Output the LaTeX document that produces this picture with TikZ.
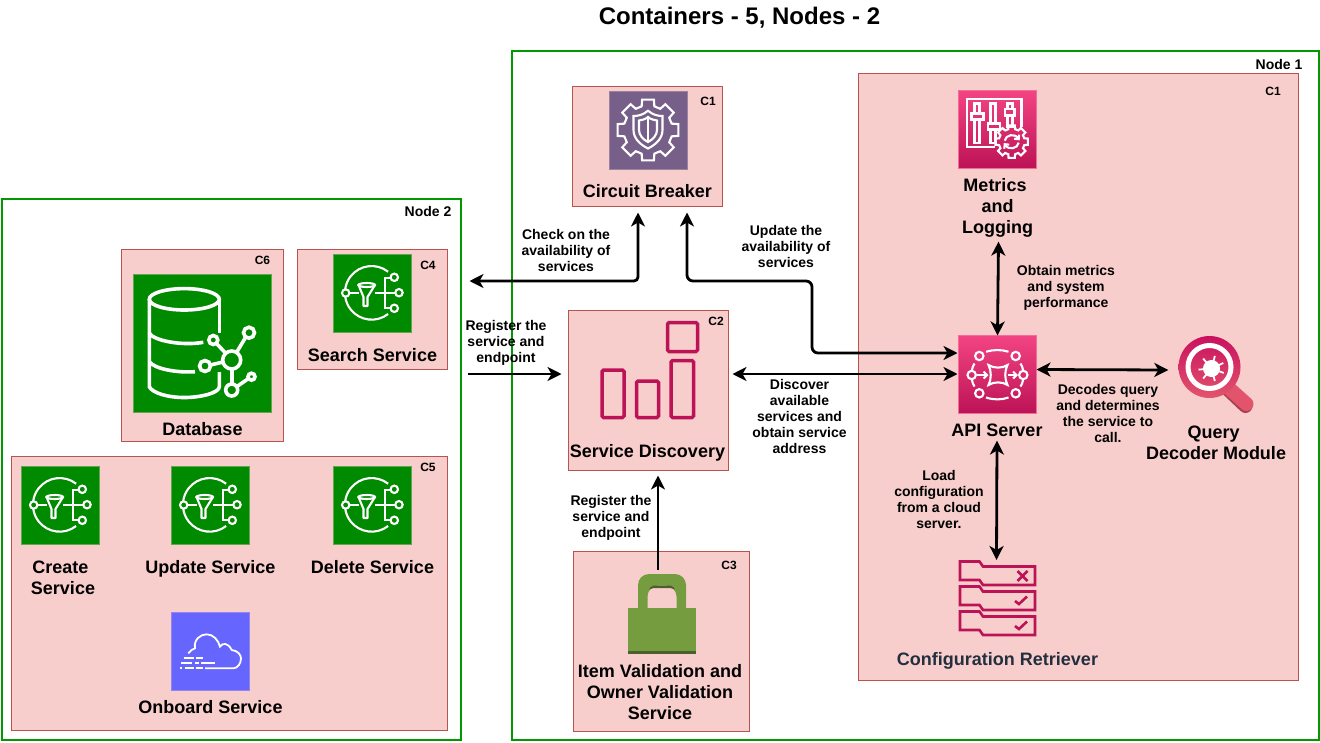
\documentclass[tikz,border=0pt]{standalone}
\usepackage{fontspec}
\setmainfont{Liberation Sans}
\usetikzlibrary{arrows.meta}

\definecolor{nodeGreen}{HTML}{009900}
\definecolor{boxFill}{HTML}{F8CECC}
\definecolor{boxLine}{HTML}{B85450}
\definecolor{iconGreen}{HTML}{008A00}
\definecolor{iconPurple}{HTML}{76608A}
\definecolor{iconBlue}{HTML}{6666FF}
\definecolor{pinkTop}{HTML}{F34482}
\definecolor{pinkBot}{HTML}{BC1356}
\definecolor{pinkLine}{HTML}{BC1356}
\definecolor{lensTop}{HTML}{C9115F}
\definecolor{lensBot}{HTML}{E2546C}
\definecolor{lockGreen}{HTML}{759C3E}
\definecolor{lockDark}{HTML}{4B612C}
\definecolor{darkText}{HTML}{232F3E}

\tikzset{
  nodeFrame/.style={draw=nodeGreen, line width=2pt, inner sep=0pt},
  serviceBox/.style={draw=boxLine, fill=boxFill, line width=1pt, inner sep=0pt, outer sep=0pt},
  iconBox/.style={inner sep=0pt, outer sep=0pt, minimum size=78pt, line width=0.8pt},
  greenIcon/.style={iconBox, fill=iconGreen, draw=iconGreen!60!boxFill},
  pinkIcon/.style={iconBox, top color=pinkTop, bottom color=pinkBot, draw=pinkTop!70!boxFill},
  glyph/.style={draw=white, line width=2.1pt},
  mainText/.style={font=\fontsize{18}{21}\selectfont\bfseries, align=center, inner sep=0pt},
  noteText/.style={font=\fontsize{14}{16}\selectfont\bfseries, align=center, inner sep=0pt},
  tagText/.style={font=\fontsize{12}{14}\selectfont\bfseries, inner sep=0pt},
  conn/.style={draw=black, line width=2.8pt, >={Stealth[length=14pt,width=14pt,inset=4pt]}},
}

% cog outline with eight teeth
\newcommand{\cogPath}[3]{
  \draw[glyph] (-#3:#1) \foreach \a in {0,45,...,315} {
    -- (\a-#3:#1) -- (\a-#3+4:#2) -- (\a+#3-4:#2) -- (\a+#3:#1) } -- cycle;
}
\newcommand{\funnelGlyph}[1]{
  \begin{scope}[shift={(#1)}]
    \draw[glyph] (15.6,21) arc[start angle=52, end angle=172, radius=26.7];
    \draw[glyph] (15.6,-21.3) arc[start angle=308, end angle=188, radius=26.7];
    \foreach \p in {{-26.8,0},{26.5,-0.3},{21.8,-15.7},{21.8,15.3}}
      \draw[glyph] (\p) circle[radius=3.7];
    \draw[glyph] (-23,0) -- (-14,0);
    \draw[glyph] (2.5,0) -- (22.8,0);
    \draw[glyph] (18,-15) -- (12.5,-15) -- (12.5,15.3) -- (18,15.3);
    \draw[glyph] (-5.8,-8) ellipse[x radius=8.3, y radius=2];
    \draw[glyph, line join=round] (-14,-8) -- (-9,4) -- (-9,13) -- (-5,13) -- (-5,4) -- (2.5,-8);
  \end{scope}
}

\begin{document}
\begin{tikzpicture}[x=1pt, y=-1pt]
  \useasboundingbox (0.5,0.5) rectangle (1320.5,742.5);

  \node[font=\fontsize{24}{28}\selectfont\bfseries, inner sep=0pt] (diagramTitle) at (740,18) {Containers - 5, Nodes - 2};

  \draw[nodeFrame] (512,51) rectangle (1319.5,740.5);
  \draw[nodeFrame] (2,199) rectangle (461.5,740.5);
  \node[font=\fontsize{14}{16}\selectfont\bfseries, inner sep=0pt] (nodeOneTag) at (1279.5,64.5) {Node 1};
  \node[font=\fontsize{14}{16}\selectfont\bfseries, inner sep=0pt] (nodeTwoTag) at (428.5,211.5) {Node 2};

  % service boxes
  \node[serviceBox, minimum width=440pt, minimum height=607pt] (apiBox) at (1079,377.5) {};
  \node[serviceBox, minimum width=150pt, minimum height=120pt] (cbBox) at (648,147) {};
  \node[serviceBox, minimum width=160pt, minimum height=160pt] (sdBox) at (649,391) {};
  \node[serviceBox, minimum width=176pt, minimum height=180pt] (itemBox) at (662,642) {};
  \node[serviceBox, minimum width=162pt, minimum height=192pt] (dbBox) at (203,346) {};
  \node[serviceBox, minimum width=150pt, minimum height=120pt] (searchBox) at (373,310) {};
  \node[serviceBox, minimum width=436pt, minimum height=274pt] (crudBox) at (230,594) {};

  \node[tagText] (cbTag) at (708.5,101.5) {C1};
  \node[tagText] (apiTag) at (1273.5,91.5) {C1};
  \node[tagText] (sdTag) at (716.5,321.5) {C2};
  \node[tagText] (itemTag) at (729.5,565.5) {C3};
  \node[tagText] (searchTag) at (428.5,265.5) {C4};
  \node[tagText] (crudTag) at (428.5,467.5) {C5};
  \node[tagText] (dbTag) at (263,260.5) {C6};

  % circuit breaker
  \node[iconBox, fill=iconPurple, draw=iconPurple!70!boxFill] (cbIcon) at (648.5,130.5) {};
  \begin{scope}[shift={(cbIcon.center)}]
    \cogPath{24.5}{31}{15}
    \draw[glyph] (0,-19.3) .. controls (-5,-15) and (-10,-14) .. (-14.5,-14) -- (-14.5,0)
      .. controls (-14.5,9) and (-7,15) .. (0,18.5) .. controls (7,15) and (14.5,9) .. (14.5,0)
      -- (14.5,-14) .. controls (10,-14) and (5,-15) .. (0,-19.3) -- cycle;
    \draw[glyph] (0,-13) .. controls (-3,-10.5) and (-6,-10) .. (-9,-9.5) -- (-9,0)
      .. controls (-9,5) and (-5,9.5) .. (0,12) .. controls (5,9.5) and (9,5) .. (9,0)
      -- (9,-9.5) .. controls (6,-10) and (3,-10.5) .. (0,-13) -- cycle;
    \draw[glyph] (0,-13) -- (0,12);
  \end{scope}
  \node[mainText] (cbText) at (648,191.5) {Circuit Breaker};

  % metrics and logging
  \node[pinkIcon] (metricsIcon) at (998,130) {};
  \begin{scope}[shift={(metricsIcon.center)}]
    \draw[glyph] (-2.5,17.2) -- (-30.8,17.2) -- (-30.8,-30.5) -- (24,-30.5) -- (24,-3);
    \draw[glyph] (-23,-16) -- (-23,-26) -- (-18,-26) -- (-18,-16);
    \draw[glyph] (-26,-16) rectangle (-14,-10);
    \draw[glyph] (-23,-10) -- (-23,13.5) -- (-18,13.5) -- (-18,-10);
    \draw[glyph] (-7,-6) -- (-7,-26) -- (-2,-26) -- (-2,-6);
    \draw[glyph] (-9.5,-6) rectangle (2.5,0);
    \draw[glyph] (-7,0) -- (-7,13.5) -- (-2,13.5) -- (-2,0);
    \draw[glyph] (10,-20.5) -- (10,-26) -- (15,-26) -- (15,-20.5);
    \draw[glyph] (7.5,-20.5) rectangle (17,-14);
    \draw[glyph] (10,-14) -- (10,-3) -- (15,-3) -- (15,-14);
    \begin{scope}[shift={(14.2,12.2)}]
      \cogPath{13}{16.5}{15}
      \draw[glyph] (-7,-1) .. controls (-6,-7) and (3,-9) .. (7,-3);
      \draw[glyph] (7,1) .. controls (6,7) and (-3,9) .. (-7,3);
      \draw[glyph] (7.5,-7) -- (7,-2.5) -- (2.5,-3);
      \draw[glyph] (-7.5,7) -- (-7,2.5) -- (-2.5,3);
    \end{scope}
  \end{scope}
  \node[mainText] (metricsText) at (998,208.5) {Metrics\hspace*{5pt}\\and\hspace*{5pt}\\Logging};

  % api server
  \node[pinkIcon] (apiIcon) at (998,375) {};
  \begin{scope}[shift={(apiIcon.center)}]
    \foreach \p in {{-18.2,-18.5},{18.2,-18.5},{-25.8,0.5},{25.8,0.5},{-18.2,18.8},{18.2,18.8}}
      \draw[glyph] (\p) circle[radius=4.2];
    \draw[glyph] (-11.5,-22.8) .. controls (-4,-25) and (4,-25) .. (11,-22.8);
    \draw[glyph] (-11.5,23) .. controls (-4,25.5) and (4,25.5) .. (11,23);
    \draw[glyph] (-23,-11) .. controls (-24.5,-9) and (-25,-7) .. (-25.5,-4.5);
    \draw[glyph] (23,-11) .. controls (24.5,-9) and (25,-7) .. (25.5,-4.5);
    \draw[glyph] (-23,12) .. controls (-24.5,10) and (-25,8) .. (-25.5,5.5);
    \draw[glyph] (23,12) .. controls (24.5,10) and (25,8) .. (25.5,5.5);
    \draw[glyph] (-9,-9.5) .. controls (-4,-6) and (5,-6) .. (10,-9.5)
      .. controls (7,-4) and (7,5) .. (10,10.5) .. controls (5,7) and (-4,7) .. (-9,10.5)
      .. controls (-6,5) and (-6,-4) .. (-9,-9.5) -- cycle;
    \draw[glyph] (-21,0.5) -- (-11,0.5);
    \draw[glyph] (-14,-3) -- (-10.5,0.5) -- (-14,4);
    \draw[glyph] (10,0.5) -- (19,0.5);
    \draw[glyph] (15.5,-3) -- (19,0.5) -- (15.5,4);
  \end{scope}
  \node[mainText] (apiText) at (997.5,430.5) {API Server};

  % query decoder
  \draw[line width=14pt, line cap=round, draw=lensBot!75!black] (1227,388.5) -- (1246,406.5);
  \draw[line width=14pt, line cap=round, draw=lensBot] (1227,386.5) -- (1247,404.5);
  \node[circle, minimum size=62pt, inner sep=0pt, top color=lensTop, bottom color=lensBot] (queryIcon) at (1210,367.5) {};
  \begin{scope}[shift={(queryIcon.center)}]
    \draw[white, line width=5pt] (0,0) circle[radius=21.5];
    \fill[white] (2,1.5) circle[radius=8.5];
    \foreach \a in {20,75,130,175,230,285,335}
      \draw[white, line width=1.8pt] ([shift={(2,1.5)}]\a:6) -- ([shift={(2,1.5)}]\a:13);
  \end{scope}
  \node[mainText] (queryText) at (1216.5,443) {Query\hspace*{5pt}\\Decoder Module};

  % configuration retriever
  \node[iconBox] (configIcon) at (998,599.5) {};
  \foreach \dy in {0,25,50} {
    \begin{scope}[yshift=-\dy pt]
      \draw[pinkLine, line width=2.6pt] (960.5,562) -- (980,562) -- (983.5,567) -- (1035.5,567)
        -- (1035.5,585.5) -- (983.5,585.5) -- (980,580.5) -- (960.5,580.5) -- cycle;
    \end{scope}
  }
  \draw[pinkLine, line width=2.6pt] (1018,571.5) -- (1028,581.5) (1028,571.5) -- (1018,581.5);
  \draw[pinkLine, line width=2.6pt] (1015.5,601.5) -- (1019.5,604.5) -- (1027.5,597);
  \draw[pinkLine, line width=2.6pt] (1015.5,626.5) -- (1019.5,629.5) -- (1027.5,622);
  \node[mainText, text=darkText] (configText) at (998,661.5) {Configuration Retriever};

  % service discovery
  \node[iconBox, minimum width=110pt, minimum height=100pt] (sdIcon) at (648,370) {};
  \draw[pinkLine, line width=3.5pt, rounded corners=1.5pt] (668,323) rectangle (698,352);
  \draw[pinkLine, line width=3.5pt, rounded corners=1.5pt] (602.5,370.5) rectangle (624.5,418);
  \draw[pinkLine, line width=3.5pt, rounded corners=1.5pt] (637,381.5) rectangle (659,418);
  \draw[pinkLine, line width=3.5pt, rounded corners=1.5pt] (671.5,361) rectangle (694,418);
  \node[mainText] (sdText) at (648,453.5) {Service Discovery};

  % item validation
  \fill[lockGreen, even odd rule, rounded corners=11pt] (638.5,630) -- (638.5,574.5) -- (686.5,574.5) -- (686.5,630) -- cycle
    (648,630) -- (648,586) -- (677,586) -- (677,630) -- cycle;
  \fill[lockDark, rounded corners=2pt] (649,591) -- (652,586) -- (673,586) -- (676,591) -- (673,588.5) -- (652,588.5) -- cycle;
  \node[inner sep=0pt, outer sep=0pt, minimum width=68pt, minimum height=46pt, fill=lockGreen] (lockIcon) at (662.5,631) {};
  \fill[lockDark] (628.5,651.5) rectangle (696.5,654.5);
  \node[mainText] (itemText) at (660.5,692.5) {Item Validation and\\Owner Validation\\Service};

  % node 2 services
  \node[greenIcon, minimum size=138pt] (dbIcon) at (203,343.5) {};
  \begin{scope}[shift={(dbIcon.center)}, every path/.style={line width=3.6pt, draw=white}]
    \draw (-18.2,-43.7) ellipse[x radius=35, y radius=10.7];
    \draw (-53.2,-43.7) -- (-53.2,43.7) .. controls (-50,50) and (-35,54.5) .. (-18.2,54.5)
      .. controls (-2,54.5) and (16.8,50) .. (16.8,43.7) -- (16.8,29);
    \draw (16.8,-43.7) -- (16.8,-9.7);
    \draw (-53.2,-9.7) .. controls (-48,-2) and (-20,3) .. (0.8,-0.7);
    \draw (-53.2,18.7) .. controls (-48,26) and (-25,30) .. (-7.5,28.7);
    \draw (29.2,17) circle[radius=9];
    \draw (10.8,-3) circle[radius=4.5];
    \draw (46.5,-10.3) circle[radius=5.5];
    \draw (2.5,23) circle[radius=5.5];
    \draw (29.2,47) circle[radius=6];
    \draw (49,33.7) circle[radius=3.5];
    \draw (14,0.5) -- (23,10);
    \draw (43,-5.5) -- (34,9.5);
    \draw (8,22) -- (20.5,19);
    \draw (29.2,26) -- (29.2,41);
    \draw (34.5,43.5) -- (46,35.5);
  \end{scope}
  \node[mainText] (dbText) at (203,429.5) {Database};

  \node[greenIcon] (searchIcon) at (373,293.5) {};
  \funnelGlyph{searchIcon.center}
  \node[mainText] (searchText) at (373,355.5) {Search Service};

  \node[greenIcon] (createIcon) at (61,505.5) {};
  \funnelGlyph{createIcon.center}
  \node[mainText] (createText) at (63.5,578) {Create\hspace*{5pt}\\Service};
  \node[greenIcon] (updateIcon) at (211,505.5) {};
  \funnelGlyph{updateIcon.center}
  \node[mainText] (updateText) at (211,569.5) {Update Service};
  \node[greenIcon] (deleteIcon) at (373,505.5) {};
  \funnelGlyph{deleteIcon.center}
  \node[mainText] (deleteText) at (373,567.5) {Delete Service};

  \node[iconBox, fill=iconBlue, draw=iconBlue!70!boxFill] (onboardIcon) at (211,652) {};
  \begin{scope}[shift={(onboardIcon.center)}, every path/.style={line width=1.8pt, draw=white}]
    \draw (-22.2,1.8) .. controls (-20,-1) and (-18,-2.5) .. (-15.5,-3.2)
      .. controls (-17,-12) and (-10,-17.2) .. (-3.8,-17.2)
      .. controls (3,-17.2) and (8,-11) .. (9.5,-4.8)
      .. controls (12,-9) and (17.5,-9) .. (21.2,-1.5)
      .. controls (27,-1) and (30.5,3) .. (30.5,7)
      .. controls (30.5,12) and (27,16.8) .. (22.8,16.8) -- (-5.5,16.8);
    \draw (-27,6.8) -- (-17,6.8) (-15,6.8) -- (-8,6.8);
    \draw (-29.5,11.8) -- (-19,11.8) (-16,11.8) -- (-12,11.8) (-9.5,11.8) -- (4.5,11.8);
    \draw (-30.5,16.8) -- (-29,16.8) (-26,16.8) -- (-17,16.8) (-15,16.8) -- (-8,16.8);
  \end{scope}
  \node[mainText] (onboardText) at (211,707.5) {Onboard Service};

  % connectors
  \coordinate (checkEnd) at (470,281.5);
  \coordinate (registerStart) at (468.5,374.5);
  \coordinate (lockTop) at (658.5,570.5);
  \draw[conn, <->, rounded corners=4pt] ([xshift=-9.5pt,yshift=-6pt]cbBox.south) |- (checkEnd);
  \draw[conn, <->, rounded corners=6pt] ([xshift=39.5pt,yshift=-6pt]cbBox.south) -- (687.5,281.5) -- (812.5,281.5) -- (812.5,353.5) -- ([xshift=-1pt,yshift=21.5pt]apiIcon.west);
  \draw[conn, ->] (registerStart) -- ([xshift=-7pt,yshift=16.5pt]sdBox.west);
  \draw[conn, <->] ([xshift=4pt,yshift=16.5pt]sdBox.east) -- ([xshift=-1pt,yshift=0.5pt]apiIcon.west);
  \draw[conn, ->] (lockTop) -- ([xshift=9.5pt,yshift=-5pt]sdBox.south);
  \draw[conn, <->] ([xshift=1pt,yshift=-4pt]metricsText.south) -- ([xshift=0pt]apiIcon.north);
  \draw[conn, <->] ([yshift=5pt]apiIcon.east) -- ([xshift=-10pt,yshift=-3pt]queryIcon.west);
  \draw[conn, <->] ([yshift=-4pt]apiText.south) -- ([xshift=-1pt]configIcon.north);

  % connector notes
  \node[noteText] (checkNote) at (566.5,250.5) {Check on the\\availability of\\services};
  \node[noteText] (updateNote) at (786.5,246.5) {Update the\\availability of\\services};
  \node[noteText] (registerNote) at (506.5,343) {Register the\\service and\\endpoint};
  \node[noteText] (discoverNote) at (800,416.5) {Discover\\available\\services and\\obtain service\\address};
  \node[noteText] (itemNote) at (611.5,518) {Register the\\service and\\endpoint};
  \node[noteText] (metricsNote) at (1066.5,288) {Obtain metrics\\and system\\performance};
  \node[noteText] (decodeNote) at (1108.5,413.5) {Decodes query\\and determines\\the service to\\call.};
  \node[noteText] (loadNote) at (939.5,499.5) {Load\\configuration\\from a cloud\\server.};
\end{tikzpicture}
\end{document}
